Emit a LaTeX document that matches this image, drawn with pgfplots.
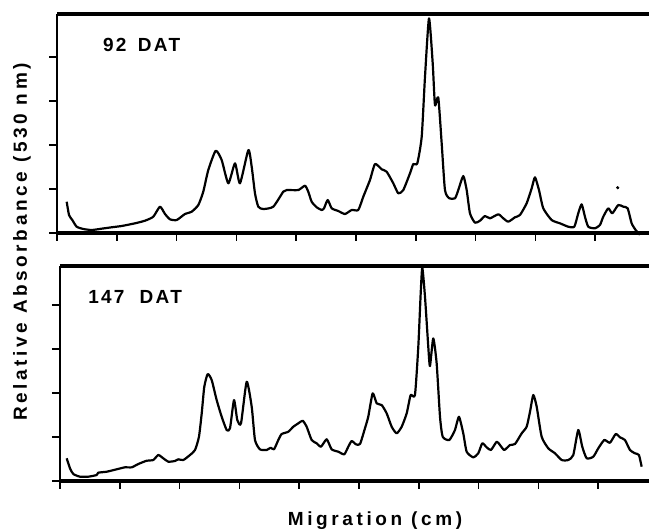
\documentclass[border=0pt]{standalone}
\usepackage{pgfplots}
\pgfplotsset{compat=1.18}
\usepackage{fontspec}
\setmainfont{Liberation Sans}
\newfontfamily\lblfont{Liberation Sans}[LetterSpace=12]
\newfontfamily\axfont{Liberation Sans}[LetterSpace=19]

% densitometer traces, x in tick units (migration), y in tick units
\pgfplotstableread{
x y
0.162 0.711
0.201 0.409
0.256 0.295
0.329 0.143
0.440 0.091
0.580 0.068
0.747 0.098
0.915 0.130
1.082 0.159
1.304 0.220
1.472 0.280
1.610 0.370
1.722 0.598
1.806 0.432
1.890 0.311
2.002 0.295
2.140 0.432
2.252 0.484
2.363 0.636
2.446 0.939
2.530 1.432
2.654 1.870
2.754 1.659
2.865 1.130
2.977 1.584
3.060 1.130
3.200 1.886
3.256 1.507
3.311 0.902
3.366 0.598
3.450 0.545
3.617 0.598
3.784 0.939
3.841 0.977
4.035 0.977
4.147 1.075
4.202 0.939
4.259 0.711
4.343 0.584
4.426 0.523
4.465 0.561
4.527 0.750
4.594 0.561
4.704 0.500
4.816 0.432
4.928 0.523
5.038 0.523
5.122 0.825
5.234 1.205
5.318 1.568
5.430 1.448
5.513 1.393
5.624 1.130
5.707 0.902
5.791 0.977
5.903 1.357
5.958 1.568
6.025 1.584
6.099 2.189
6.154 3.552
6.221 4.880
6.283 3.857
6.321 2.909
6.376 3.084
6.433 2.039
6.488 0.977
6.560 0.789
6.656 0.789
6.711 0.977
6.794 1.295
6.851 0.977
6.906 0.448
6.990 0.234
7.074 0.280
7.157 0.386
7.241 0.334
7.380 0.425
7.463 0.334
7.547 0.257
7.659 0.357
7.742 0.409
7.854 0.675
7.938 1.016
7.993 1.266
8.060 0.977
8.132 0.561
8.272 0.295
8.411 0.220
8.550 0.143
8.651 0.143
8.717 0.448
8.774 0.652
8.829 0.370
8.884 0.143
8.997 0.107
9.080 0.182
9.135 0.370
9.219 0.561
9.286 0.448
9.386 0.636
9.470 0.598
9.543 0.561
9.610 0.220
9.677 0.068
9.749 -0.040
}\topdata

\pgfplotstableread{
x y
0.112 0.516
0.167 0.289
0.222 0.159
0.334 0.098
0.473 0.098
0.614 0.136
0.640 0.189
0.781 0.211
0.948 0.266
1.087 0.311
1.199 0.311
1.309 0.386
1.450 0.461
1.560 0.477
1.644 0.591
1.727 0.516
1.811 0.439
1.923 0.455
1.978 0.493
2.062 0.477
2.174 0.591
2.258 0.705
2.324 1.007
2.370 1.539
2.413 2.143
2.470 2.432
2.537 2.295
2.620 1.841
2.704 1.461
2.788 1.159
2.843 1.198
2.910 1.841
2.965 1.386
3.027 1.311
3.122 2.257
3.206 1.689
3.261 0.932
3.344 0.720
3.456 0.705
3.523 0.757
3.579 0.720
3.651 0.932
3.707 1.068
3.818 1.120
3.901 1.234
3.985 1.311
4.059 1.370
4.125 1.234
4.209 0.932
4.293 0.857
4.365 0.780
4.460 0.948
4.543 0.720
4.654 0.666
4.754 0.607
4.821 0.780
4.878 0.909
4.950 0.834
5.017 0.841
5.100 1.198
5.155 1.461
5.229 1.993
5.296 1.766
5.380 1.727
5.463 1.539
5.547 1.234
5.630 1.084
5.714 1.234
5.798 1.539
5.864 1.955
5.936 1.955
5.992 3.052
6.032 4.266
6.059 4.850
6.104 4.189
6.159 3.052
6.187 2.614
6.242 3.243
6.299 2.675
6.355 1.461
6.400 1.007
6.510 0.932
6.605 1.159
6.672 1.461
6.744 1.084
6.801 0.666
6.911 0.539
6.995 0.630
7.062 0.857
7.135 0.766
7.207 0.705
7.303 0.893
7.358 0.818
7.430 0.705
7.525 0.818
7.609 0.841
7.721 1.084
7.804 1.234
7.860 1.575
7.915 1.955
7.972 1.689
8.055 1.007
8.166 0.743
8.278 0.630
8.390 0.477
8.500 0.477
8.584 0.591
8.667 1.159
8.734 0.780
8.808 0.516
8.918 0.552
9.002 0.743
9.102 0.932
9.197 0.870
9.293 1.068
9.365 0.993
9.448 0.932
9.532 0.705
9.615 0.630
9.682 0.591
9.727 0.325
}\botdata

\pgfplotsset{
  trace/.style={black, line width=2.2pt, line join=round, smooth, tension=0.35, mark=none},
  panel/.style={
    scale only axis,
    xmin=0, ymin=0,
    axis x line*=box, axis y line*=left,
    separate axis lines,
    x axis line style={line width=4.5pt},
    y axis line style={line width=1.8pt},
    xtick={0,...,9}, ytick={0,...,4},
    xticklabels={}, yticklabels={},
    tick align=outside, xtick pos=left, ytick pos=left,
    major tick length=8pt,
    every tick/.style={black, line width=1.5pt},
    clip=false,
  }}

\begin{document}
\begin{tikzpicture}[x=1pt,y=1pt]
\useasboundingbox (0,0) rectangle (649,532);

\begin{axis}[panel, at={(57pt,299pt)}, anchor=south west,
    width=592pt, height=219pt, xmax=9.9, ymax=4.98]
  \addplot[trace] table {\topdata};
  \addplot[black, only marks, mark=*, mark size=1.4pt] coordinates {(9.376,1.03)};
  \node[anchor=west, font=\lblfont\bfseries\fontsize{19}{22}\selectfont]
    at (rel axis cs:0.072,0.858) {92\hspace{0.6em}DAT};
\end{axis}

\begin{axis}[panel, at={(60pt,51pt)}, anchor=south west,
    width=589pt, height=215pt, xmax=9.85, ymax=4.89]
  \addplot[trace] table {\botdata};
  \node[anchor=west, font=\lblfont\bfseries\fontsize{19}{22}\selectfont]
    at (rel axis cs:0.042,0.855) {147\hspace{0.8em}DAT};
\end{axis}

\node[rotate=90, font=\axfont\bfseries\fontsize{19}{22}\selectfont]
  at (22,290) {Relative Absorbance (530 nm)};
\node[font=\axfont\bfseries\fontsize{19}{22}\selectfont]
  at (375,11) {Migration (cm)};
\end{tikzpicture}
\end{document}
